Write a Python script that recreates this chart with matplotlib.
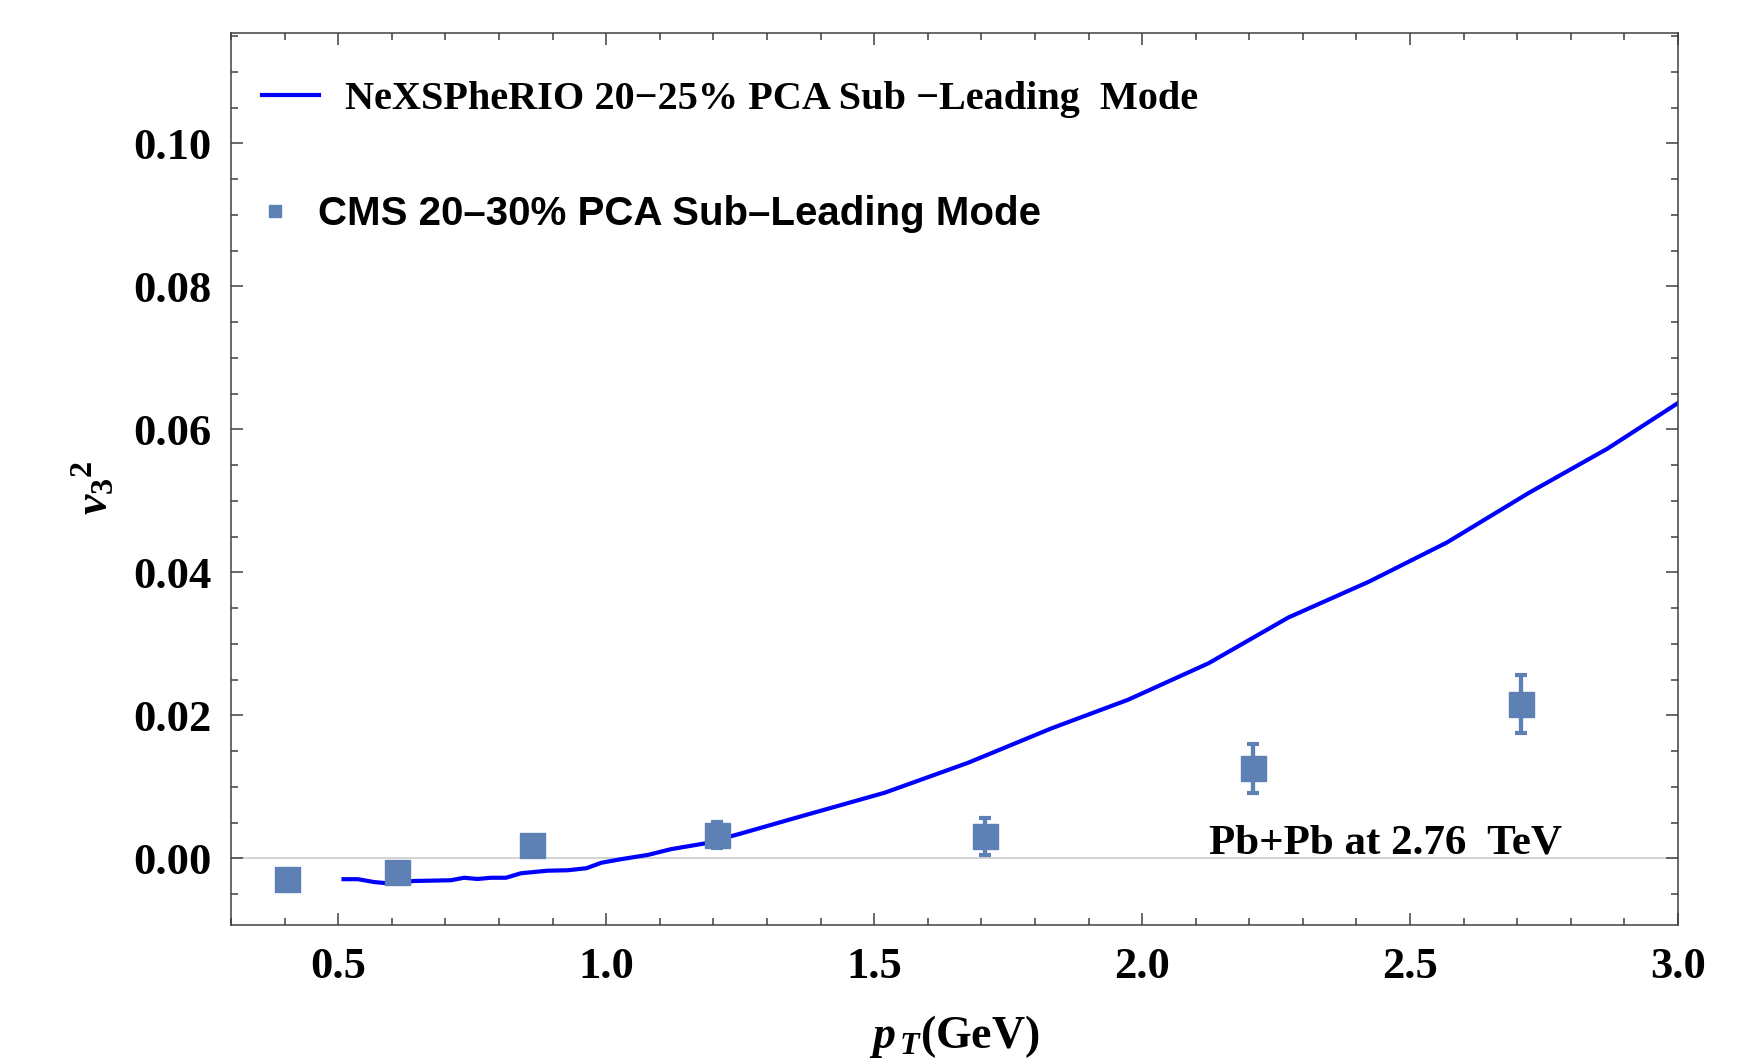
import matplotlib
matplotlib.use("Agg")
import matplotlib.pyplot as plt
from matplotlib.ticker import MultipleLocator, FormatStrFormatter

# NeXSPheRIO 20-25% curve
model_pt = [0.51, 0.537, 0.567, 0.592, 0.642, 0.71, 0.735, 0.76, 0.785, 0.813,
            0.841, 0.891, 0.928, 0.963, 0.991, 1.028, 1.078, 1.121, 1.184, 1.252,
            1.364, 1.52, 1.676, 1.831, 1.974, 2.124, 2.273, 2.423, 2.569, 2.721,
            2.868, 3.0]
model_v32 = [-0.0029, -0.0029, -0.0033, -0.00347, -0.00315, -0.00305, -0.0027,
             -0.00287, -0.0027, -0.0027, -0.00207, -0.00171, -0.00165, -0.00137,
             -0.0006, -0.0001, 0.0005, 0.0013, 0.0021, 0.0035, 0.0059, 0.0092,
             0.0134, 0.0182, 0.0222, 0.0273, 0.0337, 0.0387, 0.0442, 0.0511,
             0.0573, 0.0637]

# CMS 20-30% points
cms_pt = [0.405, 0.61, 0.861, 1.207, 1.707, 2.207, 2.707]
cms_v32 = [-0.0029, -0.0019, 0.00185, 0.0033, 0.0031, 0.0126, 0.0216]
cms_err = [0.0, 0.0, 0.0, 0.0018, 0.0026, 0.0034, 0.0041]

model_label = "NeXSPheRIO 20\u221225% PCA Sub \u2212Leading  Mode"
cms_label = "CMS 20\u201330% PCA Sub\u2013Leading Mode"
system_label = "Pb+Pb at 2.76  TeV"

line_color = "#0000ff"
cms_color = "#5e81b5"
frame_color = "#404040"

plt.rcParams["font.family"] = "Liberation Serif"
plt.rcParams["font.weight"] = "bold"
plt.rcParams["mathtext.fontset"] = "custom"
plt.rcParams["mathtext.rm"] = "Liberation Serif:bold"
plt.rcParams["mathtext.it"] = "Liberation Serif:italic:bold"
plt.rcParams["mathtext.bf"] = "Liberation Serif:bold"

fig = plt.figure(figsize=(17.42, 10.6), dpi=100)
ax = fig.add_axes([0.1326, 0.1274, 0.8307, 0.8412])

ax.axhline(0, color="#c8c8c8", lw=1.1, zorder=0)
model_line, = ax.plot(model_pt, model_v32, color=line_color, lw=3.0, zorder=2)
eb = ax.errorbar(cms_pt, cms_v32, yerr=cms_err, fmt="s", color=cms_color,
                 markersize=18, elinewidth=3.1, capsize=4.6, capthick=3,
                 zorder=3)

ax.set_xlim(0.3, 3.0)
ax.set_ylim(-0.0093, 0.1154)

ax.xaxis.set_major_locator(MultipleLocator(0.5))
ax.xaxis.set_minor_locator(MultipleLocator(0.1))
ax.yaxis.set_major_locator(MultipleLocator(0.02))
ax.yaxis.set_minor_locator(MultipleLocator(0.005))
ax.xaxis.set_major_formatter(FormatStrFormatter("%.1f"))
ax.yaxis.set_major_formatter(FormatStrFormatter("%.2f"))

ax.tick_params(which="both", direction="in", top=True, right=True,
               color=frame_color, width=1.1)
ax.tick_params(which="major", length=8.5, labelsize=32)
ax.tick_params(which="minor", length=5)
ax.tick_params(axis="x", pad=16)
ax.tick_params(axis="y", pad=14)
for sp in ax.spines.values():
    sp.set_color(frame_color)
    sp.set_linewidth(1.1)

ax.set_xlabel(r"$p_{\,T}$(GeV)", fontsize=33, fontweight="bold")
ax.xaxis.set_label_coords(0.5, -0.099)
ax.set_ylabel(r"$v_3{}^{2}$", fontsize=33, fontweight="bold")
ax.yaxis.set_label_coords(-0.078, 0.49)

leg1 = ax.legend([model_line], [model_label], loc="upper left",
                 bbox_to_anchor=(0.0214, 0.947), frameon=False,
                 borderpad=0, borderaxespad=0, handlelength=1.42,
                 handletextpad=0.64, prop={"family": "Liberation Serif",
                                           "weight": "bold", "size": 29})
ax.add_artist(leg1)
ax.legend([eb.lines[0]], [cms_label], loc="upper left",
          bbox_to_anchor=(0.0214, 0.819), frameon=False, borderpad=0,
          borderaxespad=0, handlelength=0.65, handletextpad=0.75,
          markerscale=0.45, numpoints=1,
          prop={"family": "Liberation Sans", "weight": "bold", "size": 29})

ax.text(2.124, 0.0007, system_label, fontsize=31, va="baseline", ha="left")

fig.savefig("out.png", dpi=100)
